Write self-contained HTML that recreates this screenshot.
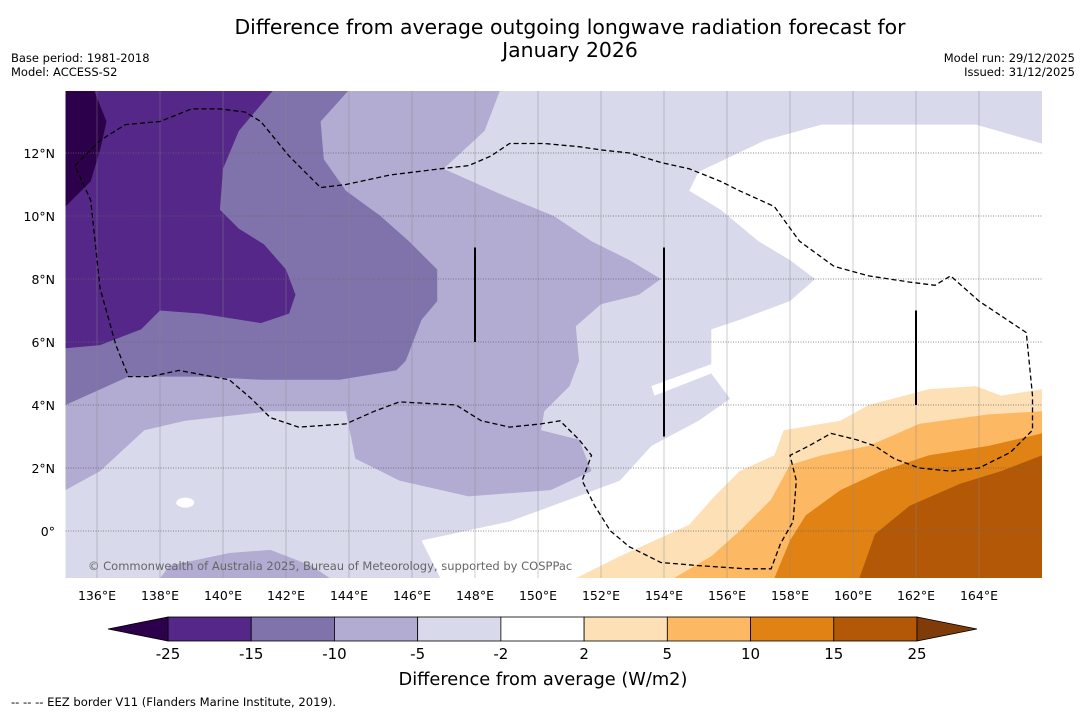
<!DOCTYPE html>
<html><head><meta charset="utf-8">
<style>
body{margin:0;background:#fff;font-family:"DejaVu Sans","Liberation Sans",sans-serif;}
svg{display:block}
</style></head>
<body>
<svg id="chart" width="1085" height="713" viewBox="0 0 1085 713" xmlns="http://www.w3.org/2000/svg" font-family="DejaVu Sans, Liberation Sans, sans-serif">
<rect width="1085" height="713" fill="#fff"/>
<text x="570" y="34" text-anchor="middle" font-size="20.4">Difference from average outgoing longwave radiation forecast for</text>
<text x="570" y="57" text-anchor="middle" font-size="20.4">January 2026</text>
<text x="11" y="62" font-size="11.5">Base period: 1981-2018</text>
<text x="11" y="76" font-size="11.5">Model: ACCESS-S2</text>
<text x="1075" y="62" font-size="11.5" text-anchor="end">Model run: 29/12/2025</text>
<text x="1075" y="76" font-size="11.5" text-anchor="end">Issued: 31/12/2025</text>
<defs><clipPath id="mapclip"><rect x="65.5" y="91" width="976.5" height="487"/></clipPath></defs>
<g id="map" clip-path="url(#mapclip)"></g>
<g id="axes"></g>
<g id="cbar"></g>
<text x="543" y="685" text-anchor="middle" font-size="17.8">Difference from average (W/m2)</text>
<text x="11" y="706" font-size="11.6">--  --  -- EEZ border V11 (Flanders Marine Institute, 2019).</text>
</svg>
<script>
const lonTicks=[136,138,140,142,144,146,148,150,152,154,156,158,160,162,164];
const latTicks=[0,2,4,6,8,10,12];
const cbarLevels=[-25,-15,-10,-5,-2,2,5,10,15,25];
const cbarColors=["#542788","#8073ac","#b2abd2","#d8daeb","#ffffff","#fee0b6","#fdb863","#e08214","#b35806"];
const cbarLow="#2d004b", cbarHigh="#7f3b08";
const regionLight=[[135,14],[166,14],[166,12.3],[163.9,12.9],[159,12.9],[157.2,12.4],[155.1,11.4],[154.8,10.8],[155.8,10.2],[157,9.2],[158,8.6],[158.8,8],[158,7.3],[156.4,6.7],[155.5,6.4],[155.5,5.3],[153.6,4.6],[153.7,4.3],[155.5,5],[156.1,4.2],[155.1,3.5],[153.6,2.7],[152.6,1.6],[151,1],[149.1,0.3],[146.3,-0.3],[146.9,-1.5],[135,-1.5]];
const regionMid=[[143.1,14],[148.8,14],[148.3,12.7],[147,11.5],[148.8,10.7],[150.5,10],[151.7,9.2],[152.9,8.6],[153.9,8],[153.2,7.5],[152,7.2],[151.2,6.5],[151.3,5.4],[151,4.6],[150.2,3.8],[150.1,3.2],[151.3,2.9],[151.7,1.9],[150.4,1.3],[147.8,1.1],[145.6,1.6],[144.2,2.3],[143.9,3.8],[141.5,3.8],[138.8,3.5],[137.5,3.2],[136.1,1.9],[135,1.3],[135,14]];
const regionMidBL=[[138,-1.5],[138.3,-1.1],[140.2,-0.7],[141.5,-0.6],[142.8,-1.1],[143.4,-1.5]];
const regionDeep=[[135,14],[144,14],[143.1,13],[143.2,11.8],[143.9,10.8],[145,10],[145.9,9.2],[146.8,8.3],[146.8,7.3],[146.3,6.7],[145.8,5.4],[145.5,5.1],[143.7,4.8],[141.2,4.8],[139.3,4.9],[137,4.9],[135,4]];
const regionDeeper=[[135,14],[141.6,14],[140.5,12.7],[140,11.5],[139.9,10.2],[140.5,9.6],[141.3,9.1],[142,8.3],[142.3,7.5],[142.1,6.9],[141.2,6.6],[139.3,6.9],[138,7],[137.4,6.4],[136.1,5.9],[135,5.8]];
const regionDeepest=[[135,14],[135.9,14],[136.3,13],[136.1,12.1],[135.8,11.1],[135,10.3]];
const regionO1=[[151.2,-1.5],[152.6,-0.8],[154.8,0.2],[155.6,1.1],[156.4,1.9],[157.5,2.4],[157.8,3.2],[159.6,3.5],[160.5,4],[162.4,4.5],[163.9,4.6],[164.7,4.3],[166,4.5],[166,-1.5]];
const regionO2=[[154.3,-1.5],[155.5,-0.8],[156.4,0],[157.4,1],[158,2.1],[159,2.4],[160.5,2.7],[162.1,3.4],[164.3,3.7],[166,3.8],[166,-1.5]];
const regionO3=[[157.5,-1.5],[158,-0.3],[158.5,0.5],[159.6,1.3],[160.9,1.9],[162.4,2.4],[164.3,2.7],[166,3.1],[166,-1.5]];
const regionO4=[[160.2,-1.5],[160.7,-0.1],[161.8,0.8],[163.4,1.5],[164.7,1.9],[166,2.4],[166,-1.5]];
const eez=[[135.3,11.6],[136.1,12.4],[136.9,12.9],[138,13],[139,13.4],[139.9,13.4],[140.7,13.3],[141.2,13],[142.1,11.9],[143.1,10.9],[143.9,11],[145.3,11.3],[146.9,11.5],[147.8,11.6],[148.5,11.9],[149.1,12.3],[150.2,12.3],[151.3,12.2],[152,12.1],[152.9,12],[153.9,11.7],[154.8,11.5],[155.8,11.1],[156.4,10.8],[157.5,10.3],[158.3,9.2],[159.4,8.4],[160.5,8.1],[161.8,7.9],[162.6,7.8],[163.1,8.1],[164,7.3],[165.5,6.3],[165.7,4.3],[165.7,3.2],[165,2.5],[164,2],[163.1,1.9],[162.1,2],[161.3,2.3],[160.7,2.7],[160.1,2.9],[159.3,3.1],[158.6,2.7],[158,2.4],[158.2,1.6],[158.1,0.3],[157.7,-0.4],[157.4,-1.2],[156.6,-1.2],[155.1,-1.1],[153.9,-1],[152.9,-0.5],[152.3,0],[151.8,0.8],[151.4,1.6],[151.7,2.4],[151.3,2.9],[150.7,3.5],[150.1,3.4],[149.1,3.3],[148.2,3.5],[147.4,4],[145.6,4.1],[144.8,3.8],[143.9,3.4],[142.4,3.3],[141.5,3.6],[140.9,4.2],[140.2,4.8],[138.6,5.1],[137.7,4.9],[137,4.9],[136.6,5.9],[136.1,7.7],[135.8,10.5]];
const segLons=[148,154,162];
const segLatTop=[9,9,7];
const segLatBot=[6,3,4];

const NS="http://www.w3.org/2000/svg";
const X=lon=>65.5+(lon-135)*31.5;
const Y=lat=>531-lat*31.5;
function mk(tag,attrs,parent){const e=document.createElementNS(NS,tag);for(const k in attrs)e.setAttribute(k,attrs[k]);parent.appendChild(e);return e;}
const map=document.getElementById('map');
const ptsStr=a=>a.map(p=>X(p[0]).toFixed(1)+","+Y(p[1]).toFixed(1)).join(" ");
function region(a,fill,name){const e=mk('polygon',{points:ptsStr(a),fill:fill},map);

}
const bg=mk('rect',{x:65.5,y:91,width:976.5,height:487,fill:"#ffffff"},map);


region(regionLight,cbarColors[3],'region-minus5-to-minus2');
region(regionMid,cbarColors[2],'region-minus10-to-minus5');
region(regionMidBL,cbarColors[2],'region-minus10-to-minus5-south');
region(regionDeep,cbarColors[1],'region-minus15-to-minus10');
region(regionDeeper,cbarColors[0],'region-minus25-to-minus15');
region(regionDeepest,cbarLow,'region-below-minus25');
region(regionO1,cbarColors[5],'region-2-to-5');
region(regionO2,cbarColors[6],'region-5-to-10');
region(regionO3,cbarColors[7],'region-10-to-15');
region(regionO4,cbarColors[8],'region-15-to-25');
const wp=mk('ellipse',{cx:X(138.8),cy:Y(0.9),rx:9,ry:5,fill:"#fff"},map);


lonTicks.forEach(l=>{const g=mk('line',{x1:X(l),x2:X(l),y1:91,y2:578,stroke:"#888",'stroke-width':0.6,'stroke-opacity':0.7},map);

});
latTicks.forEach(l=>{const g=mk('line',{x1:65.5,x2:1042,y1:Y(l),y2:Y(l),stroke:"#666",'stroke-width':0.8,'stroke-dasharray':'1,1.5'},map);

});
const ez=mk('polygon',{points:ptsStr(eez),fill:"none",stroke:"#000",'stroke-width':1.3,'stroke-dasharray':'5,3'},map);


segLons.forEach((l,i)=>{const s=mk('line',{x1:X(l),x2:X(l),y1:Y(segLatTop[i]),y2:Y(segLatBot[i]),stroke:"#000",'stroke-width':2},map);

});
const cp=mk('text',{x:88,y:570,'font-size':11.5,fill:"#666"},map);
cp.textContent="© Commonwealth of Australia 2025, Bureau of Meteorology, supported by COSPPac";


const ax=document.getElementById('axes');
lonTicks.forEach(l=>{const t=mk('text',{x:X(l),y:600,'font-size':12.5,'text-anchor':'middle'},ax);t.textContent=l+"°E";

});
latTicks.forEach(l=>{const t=mk('text',{x:55,y:Y(l)+5,'font-size':12.5,'text-anchor':'end'},ax);t.textContent=l===0?"0°":l+"°N";

});
const cb=document.getElementById('cbar');
const cx0=168,cw=(917-168)/cbarColors.length,cy=617,ch=24;
cbarColors.forEach((c,i)=>{const r=mk('rect',{x:cx0+i*cw,y:cy,width:cw,height:ch,fill:c,stroke:"#000",'stroke-width':0.8},cb);

});
const tl=mk('polygon',{points:`${cx0},${cy} ${cx0},${cy+ch} 108,${cy+ch/2}`,fill:cbarLow,stroke:"#000",'stroke-width':0.8},cb);


const th=mk('polygon',{points:`917,${cy} 917,${cy+ch} 977,${cy+ch/2}`,fill:cbarHigh,stroke:"#000",'stroke-width':0.8},cb);


cbarLevels.forEach((v,i)=>{const t=mk('text',{x:cx0+i*cw,y:659,'font-size':15,'text-anchor':'middle'},cb);t.textContent=v;

});
</script>
</body></html>
